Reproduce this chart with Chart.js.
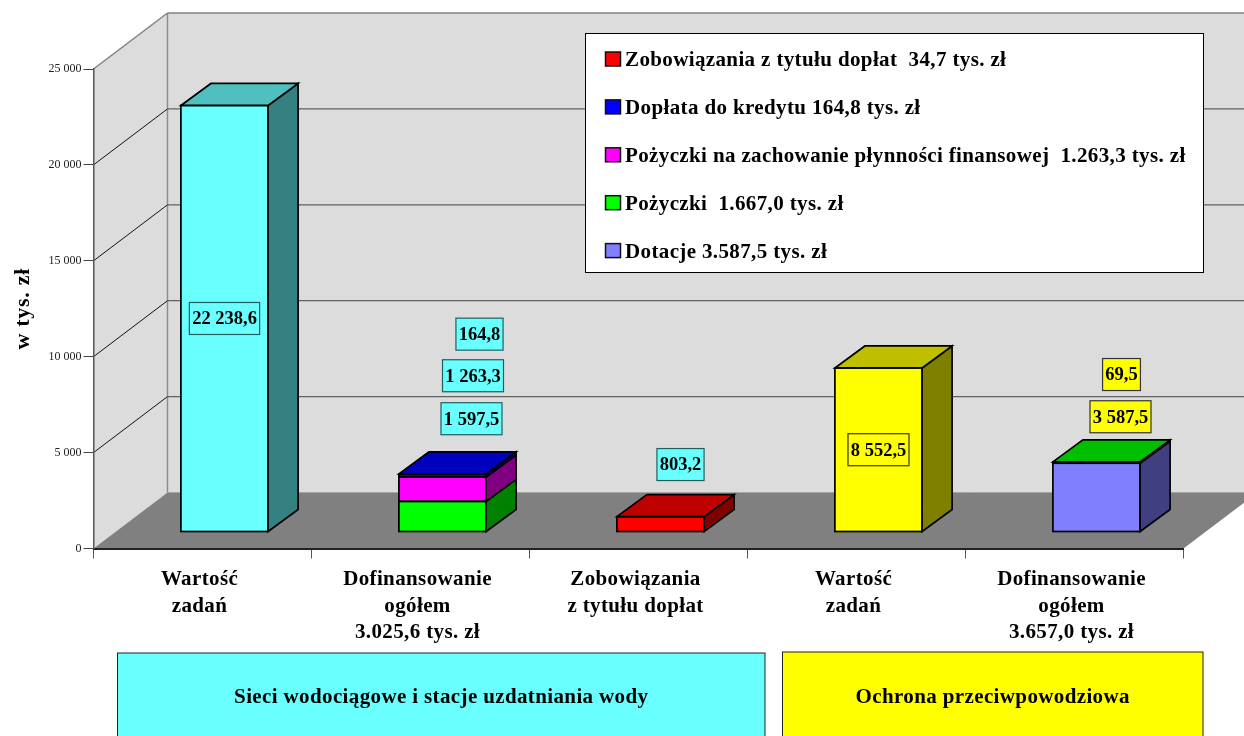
<!DOCTYPE html>
<html>
<head>
<meta charset="utf-8">
<script src="https://cdn.jsdelivr.net/npm/chart.js@4"></script>
<style>html,body{margin:0;padding:0;background:#fff;overflow:hidden}canvas{display:block}</style>
</head>
<body>
<canvas id="c" width="1244" height="736"></canvas>
<script>
const categories = [
  ["Wartość","zadań"],
  ["Dofinansowanie","ogółem","3.025,6 tys. zł"],
  ["Zobowiązania","z tytułu dopłat"],
  ["Wartość","zadań"],
  ["Dofinansowanie","ogółem","3.657,0 tys. zł"]
];
const wartosc      = [22238.6, null, null, 8552.5, null];
const dotacje      = [null, null, null, null, 3587.5];
const pozyczki     = [null, 1597.5, null, null, 69.5];
const plynnosc     = [null, 1263.3, null, null, null];
const doplata      = [null, 164.8, null, null, null];
const zobowiazania = [null, null, 803.2, null, null];
const legendLabels = [
  "Zobowiązania z tytułu dopłat  34,7 tys. zł",
  "Dopłata do kredytu 164,8 tys. zł",
  "Pożyczki na zachowanie płynności finansowej  1.263,3 tys. zł",
  "Pożyczki  1.667,0 tys. zł",
  "Dotacje 3.587,5 tys. zł"
];
const legendColors = ["#ff0000","#0000ff","#ff00ff","#00ff00","#8080ff"];
const groupLabels = ["Sieci wodociągowe i stacje uzdatniania wody","Ochrona przeciwpowodziowa"];
const yTitle = "w tys. zł";

const CYAN = "#69ffff", YEL = "#ffff00";
const FONT = '"Liberation Serif"';
const DEPTH_X = 74, DEPTH_Y = 56;       // floor depth
const BAR_SHIFT_X = 22, BAR_SHIFT_Y = 16.5; // bars stand mid-floor
const BAR_DX = 30, BAR_DY = 22;         // bar depth
const SPACING = "0.37px";

// label box offset from its bar segment centre: [dataset][category] = [dx, dy, boxColor]
const labelOffsets = {
  "0:0":[0,0,CYAN], "0:3":[0,0,YEL],
  "1:4":[24,-80.6,YEL],
  "2:1":[29,-97.7,CYAN], "2:4":[25,-88,YEL],
  "3:1":[30.5,-113.5,CYAN],
  "4:1":[37,-141.4,CYAN],
  "5:2":[20,-59.5,CYAN]
};

function fmt(v){
  const [a,b] = v.toFixed(1).split(".");
  return a.replace(/\B(?=(\d{3})+$)/g," ") + "," + b;
}
function shade(hex,k){
  const n = parseInt(hex.slice(1),16);
  const f = s => Math.round(((n>>s)&255)*k);
  return `rgb(${f(16)},${f(8)},${f(0)})`;
}
function poly(ctx,pts,fill,stroke,lw){
  ctx.beginPath();
  pts.forEach((p,i)=> i?ctx.lineTo(p[0],p[1]):ctx.moveTo(p[0],p[1]));
  ctx.closePath();
  if(fill){ctx.fillStyle=fill;ctx.fill();}
  if(stroke){ctx.strokeStyle=stroke;ctx.lineWidth=lw||1;ctx.lineJoin="miter";ctx.stroke();}
}
function line(ctx,x1,y1,x2,y2,c,w){
  ctx.beginPath();ctx.moveTo(x1,y1);ctx.lineTo(x2,y2);ctx.strokeStyle=c;ctx.lineWidth=w;ctx.stroke();
}

const scene3d = {
  id:"scene3d",
  beforeDraw(chart){
    const {ctx,chartArea:a,scales:{y}} = chart;
    const L=a.left,R=a.right,B=y.getPixelForValue(0),T=y.getPixelForValue(25000);
    ctx.save();
    poly(ctx,[[L,B],[L+DEPTH_X,B-DEPTH_Y],[L+DEPTH_X,T-DEPTH_Y],[L,T]],"#dcdcdc");
    poly(ctx,[[L+DEPTH_X,T-DEPTH_Y],[R+DEPTH_X,T-DEPTH_Y],[R+DEPTH_X,B-DEPTH_Y],[L+DEPTH_X,B-DEPTH_Y]],"#dcdcdc");
    poly(ctx,[[L,B],[L+DEPTH_X,B-DEPTH_Y],[R+DEPTH_X,B-DEPTH_Y],[R,B]],"#808080");
    line(ctx,L+DEPTH_X,B-DEPTH_Y,R+DEPTH_X,B-DEPTH_Y,"#a6a6a6",1);
    line(ctx,L+DEPTH_X,T-DEPTH_Y,L+DEPTH_X,B-DEPTH_Y,"#8c8c8c",1.5);
    line(ctx,L,T,L+DEPTH_X,T-DEPTH_Y,"#808080",1.5);
    line(ctx,L+DEPTH_X,T-DEPTH_Y,R+DEPTH_X,T-DEPTH_Y,"#808080",1.5);
    y.ticks.forEach(t=>{
      if(t.value===0||t.value===25000) return;
      const p=y.getPixelForValue(t.value);
      line(ctx,L,p,L+DEPTH_X,p-DEPTH_Y,"#111",1);
      line(ctx,L+DEPTH_X,p-DEPTH_Y,R+DEPTH_X,p-DEPTH_Y,"#606060",1.3);
    });
    ctx.restore();
  },
  beforeDatasetsDraw(chart){
    chart.ctx.save();
    chart.ctx.translate(BAR_SHIFT_X,-BAR_SHIFT_Y);
  },
  afterDatasetsDraw(chart){
    const ctx=chart.ctx;
    const tops={};
    chart.data.datasets.forEach((ds,di)=>{
      chart.getDatasetMeta(di).data.forEach((el,i)=>{
        if(ds.data[i]==null) return;
        const c=Array.isArray(ds.backgroundColor)?ds.backgroundColor[i]:ds.backgroundColor;
        const l=el.x-el.width/2,r=el.x+el.width/2;
        ctx.strokeStyle="#000";ctx.lineWidth=1.7;ctx.strokeRect(l,el.y,el.width,el.base-el.y);
        poly(ctx,[[r,el.y],[r+BAR_DX,el.y-BAR_DY],[r+BAR_DX,el.base-BAR_DY],[r,el.base]],shade(c,.5),"#000",1.7);
        tops[i]={el,c};
      });
    });
    Object.values(tops).forEach(({el,c})=>{
      const l=el.x-el.width/2,r=el.x+el.width/2;
      poly(ctx,[[l,el.y],[l+BAR_DX,el.y-BAR_DY],[r+BAR_DX,el.y-BAR_DY],[r,el.y]],shade(c,.75),"#000",1.7);
    });
    // value labels
    ctx.font=`bold 18.5px ${FONT}`;
    ctx.textAlign="center";ctx.textBaseline="middle";
    chart.data.datasets.forEach((ds,di)=>{
      chart.getDatasetMeta(di).data.forEach((el,i)=>{
        const off=labelOffsets[di+":"+i];
        if(!off||ds.data[i]==null) return;
        const cx=el.x+off[0], cy=(el.y+el.base)/2+off[1];
        const txt=fmt(ds.data[i]);
        const w=ctx.measureText(txt).width+5.5, h=32;
        ctx.fillStyle=off[2];ctx.fillRect(cx-w/2,cy-h/2,w,h);
        ctx.strokeStyle=off[2]===CYAN?"#1f5f5f":"#333";ctx.lineWidth=1.2;ctx.strokeRect(cx-w/2,cy-h/2,w,h);
        ctx.fillStyle="#000";ctx.fillText(txt,cx,cy+1);
      });
    });
    ctx.restore();
  },
  afterDraw(chart){
    const ctx=chart.ctx;
    ctx.save();
    // legend box
    ctx.fillStyle="#fff";ctx.fillRect(585,33,618,239);
    ctx.strokeStyle="#000";ctx.lineWidth=1;ctx.strokeRect(585.5,33.5,618,239);
    ctx.textAlign="left";ctx.textBaseline="middle";
    ctx.font=`bold 21px ${FONT}`;
    ctx.letterSpacing=SPACING;
    legendLabels.forEach((t,i)=>{
      const yc=59+i*47.9;
      ctx.fillStyle=legendColors[i];ctx.fillRect(605.5,yc-7,15,14);
      ctx.strokeStyle="#111";ctx.lineWidth=1.5;ctx.strokeRect(605.5,yc-7,15,14);
      ctx.fillStyle="#000";ctx.fillText(t,625,yc+1.5);
    });
    // group boxes
    const boxes=[[117.5,653,647.5,CYAN],[782.5,652,420.5,YEL]];
    boxes.forEach((b,i)=>{
      ctx.fillStyle=b[3];ctx.fillRect(b[0],b[1],b[2],90);
      ctx.strokeStyle="#222";ctx.lineWidth=1;ctx.strokeRect(b[0],b[1],b[2],90);
      ctx.fillStyle="#000";ctx.textAlign="center";ctx.textBaseline="middle";
      ctx.fillText(groupLabels[i],b[0]+b[2]/2,697.5);
    });
    ctx.restore();
  }
};

function withSpacing(scale,method,spacing){
  const orig=scale[method];
  scale[method]=function(){
    const ctx=this.ctx;
    ctx.save();ctx.letterSpacing=spacing;
    orig.apply(this,arguments);
    ctx.restore();
  };
}

new Chart(document.getElementById("c"),{
  type:"bar",
  data:{
    labels:categories,
    datasets:[
      {label:"Wartość zadań",data:wartosc,backgroundColor:[CYAN,CYAN,CYAN,YEL,YEL]},
      {label:legendLabels[4],data:dotacje,backgroundColor:"#8080ff"},
      {label:legendLabels[3],data:pozyczki,backgroundColor:"#00ff00"},
      {label:legendLabels[2],data:plynnosc,backgroundColor:"#ff00ff"},
      {label:legendLabels[1],data:doplata,backgroundColor:"#0000ff"},
      {label:legendLabels[0],data:zobowiazania,backgroundColor:"#ff0000"}
    ].map(d=>Object.assign(d,{stack:"s",borderWidth:0,clip:false,categoryPercentage:1,barPercentage:0.4}))
  },
  options:{
    responsive:false,animation:false,
    layout:{padding:{left:0,right:60.5,top:69,bottom:0}},
    plugins:{legend:{display:false},tooltip:{enabled:false},title:{display:false}},
    scales:{
      x:{stacked:true,offset:true,
        afterFit(s){s.height=187.5;},
        afterUpdate(s){ if(!s._spaced){s._spaced=true;withSpacing(s,"drawLabels",SPACING);} },
        grid:{offset:true,drawOnChartArea:false,drawTicks:true,tickLength:10,color:"#555",lineWidth:1},
        border:{color:"#222",width:2},
        ticks:{autoSkip:false,maxRotation:0,color:"#000",padding:8,labelOffset:-3,font:{family:FONT,size:21,weight:"bold",lineHeight:1.262}}
      },
      y:{stacked:true,min:0,max:25000,
        afterFit(s){s.width=93.5;},
        afterUpdate(s){ if(!s._spaced){s._spaced=true;withSpacing(s,"drawTitle","0.7px");} },
        grid:{drawOnChartArea:false,drawTicks:true,tickLength:10,color:"#444",lineWidth:1},
        border:{color:"#555",width:1.5},
        title:{display:true,text:yTitle,color:"#000",padding:{top:10,bottom:0},font:{family:FONT,size:22,weight:"bold"}},
        ticks:{stepSize:5000,color:"#222",padding:2,font:{family:FONT,size:12},callback:v=>String(v).replace(/\B(?=(\d{3})+$)/g," ")}
      }
    }
  },
  plugins:[scene3d]
});
</script>
</body>
</html>
